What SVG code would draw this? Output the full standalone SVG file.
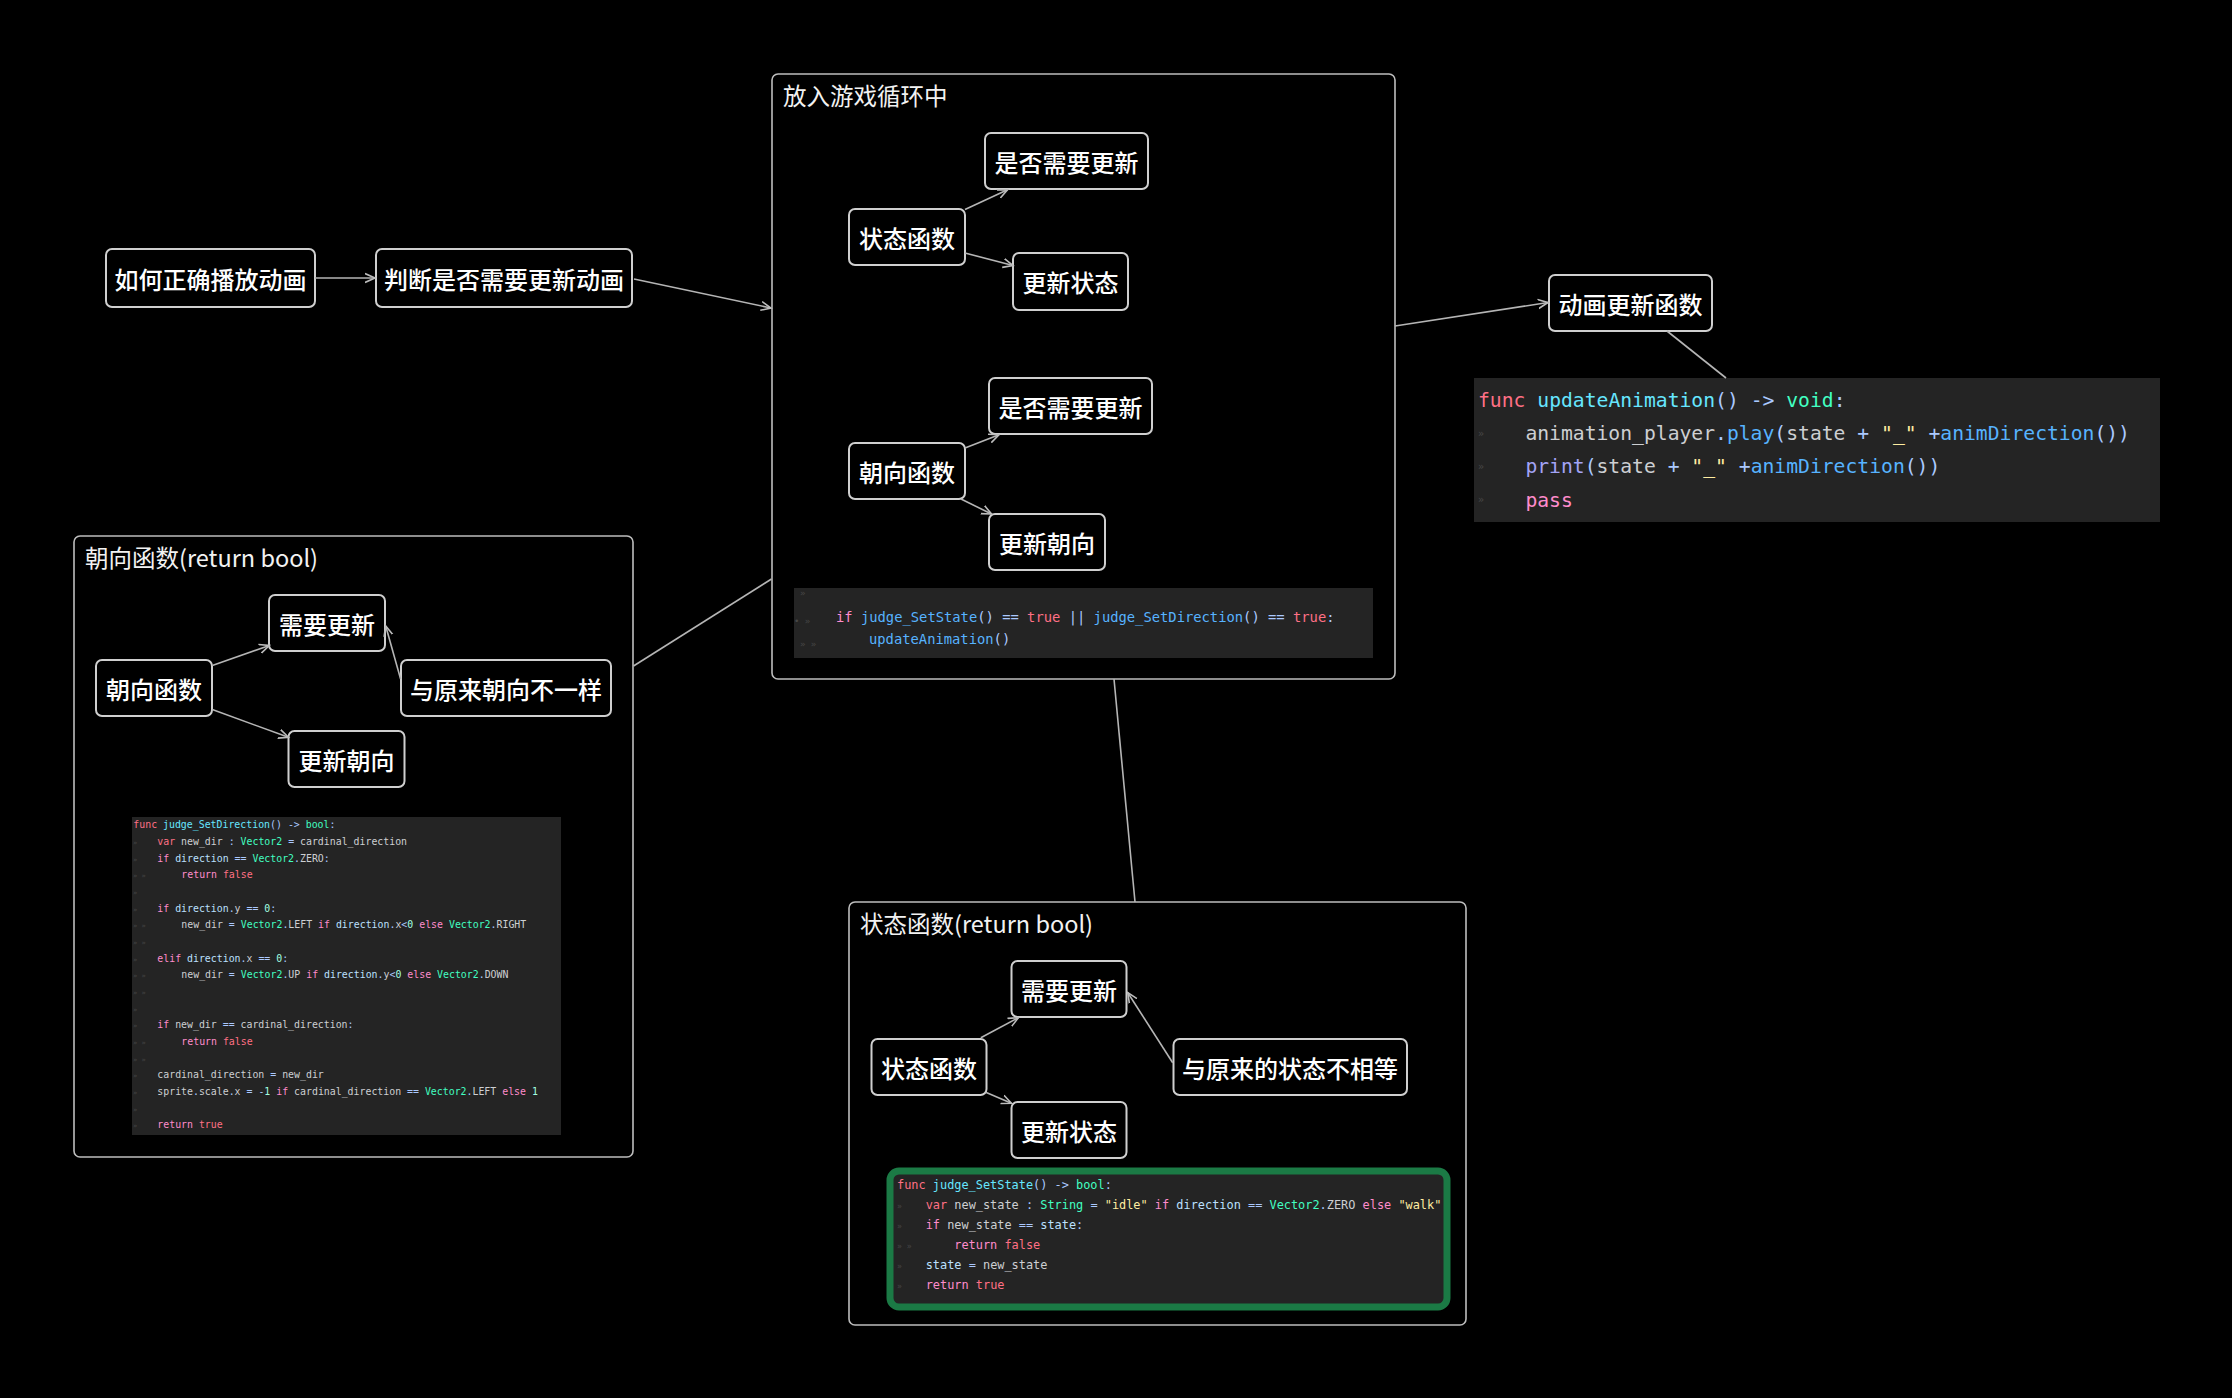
<svg xmlns="http://www.w3.org/2000/svg" width="2232" height="1398" viewBox="0 0 2232 1398">
<defs>
<style>
.node rect{fill:#000;stroke:#cfcfcf;stroke-width:2}
.node text{fill:#fff;font-family:"Noto Sans CJK SC","Noto Sans",sans-serif;font-size:24px;text-anchor:middle;dominant-baseline:central;font-weight:500}
.frame{fill:none;stroke:#bdbdbd;stroke-width:1.6}
.title{fill:#f2f2f2;font-family:"Noto Sans CJK SC","Noto Sans",sans-serif;font-size:23.5px}
.edges line{stroke:#b5b5b5;stroke-width:1.6;fill:none}
.codebg{fill:#242424;stroke:none}
.green{fill:#242424;stroke:#1b7a45;stroke-width:7}
.code{font-family:"DejaVu Sans Mono","Liberation Mono",monospace;fill:#cdcfd2;white-space:pre}
.gut{font-family:"DejaVu Sans Mono",monospace;fill:#474747}
.k{fill:#ff7085}.c{fill:#ff8ccc}.fd{fill:#66e6ff}.fc{fill:#57b3ff}.t{fill:#42ffc2}.s{fill:#abc9ff}.st{fill:#ffeda1}.n{fill:#a1ffe0}.m{fill:#bce0ff}.g{fill:#a3a3f5}
</style>
<marker id="ar" markerWidth="12" markerHeight="12" refX="10" refY="5" orient="auto" markerUnits="userSpaceOnUse" viewBox="0 0 12 10">
<path d="M0,0.5 L10,5 L0,9.5" fill="none" stroke="#bdbdbd" stroke-width="1.6"/>
</marker>
</defs>
<rect width="2232" height="1398" fill="#000"/>

<!-- group: 放入游戏循环中 -->
<g id="grp-loop">
<rect class="frame" x="772" y="74" width="623" height="605" rx="6"/>
<text class="title" x="783" y="105">放入游戏循环中</text>
<rect class="codebg" x="794" y="588" width="579" height="70"/>
<g xml:space="preserve">
<text class="gut" font-size="9" x="800" y="596">»</text>
<text class="gut" font-size="9" x="794" y="624">• »</text>
<text class="gut" font-size="9" x="800" y="647">»   »</text>
<text class="code" font-size="13.8" x="836" y="621.5"><tspan class="c">if</tspan> <tspan class="fc">judge_SetState</tspan><tspan class="s">() ==</tspan> <tspan class="k">true</tspan> <tspan class="s">||</tspan> <tspan class="fc">judge_SetDirection</tspan><tspan class="s">() ==</tspan> <tspan class="k">true</tspan><tspan class="s">:</tspan></text>
<text class="code" font-size="13.8" x="869" y="644.4"><tspan class="fc">updateAnimation</tspan><tspan class="s">()</tspan></text>
</g>
</g>

<!-- group: 朝向函数(return bool) -->
<g id="grp-dir">
<rect class="frame" x="74" y="536" width="559" height="621" rx="6"/>
<text class="title" x="85" y="567">朝向函数(return bool)</text>
<rect class="codebg" x="132" y="817" width="429" height="318"/>
<g xml:space="preserve" font-size="9.9">
<text class="gut" font-size="7" x="133" y="845">»</text>
<text class="gut" font-size="7" x="133" y="861.6">»</text>
<text class="gut" font-size="7" x="133" y="878.3">»   »</text>
<text class="gut" font-size="7" x="133" y="895">»</text>
<text class="gut" font-size="7" x="133" y="911.6">»</text>
<text class="gut" font-size="7" x="133" y="928.3">»   »</text>
<text class="gut" font-size="7" x="133" y="945">»   »</text>
<text class="gut" font-size="7" x="133" y="961.6">»</text>
<text class="gut" font-size="7" x="133" y="978.3">»   »</text>
<text class="gut" font-size="7" x="133" y="995">»   »</text>
<text class="gut" font-size="7" x="133" y="1011.6">»</text>
<text class="gut" font-size="7" x="133" y="1028.3">»</text>
<text class="gut" font-size="7" x="133" y="1045">»   »</text>
<text class="gut" font-size="7" x="133" y="1061.6">»   »</text>
<text class="gut" font-size="7" x="133" y="1078.3">»</text>
<text class="gut" font-size="7" x="133" y="1095">»</text>
<text class="gut" font-size="7" x="133" y="1111.6">»</text>
<text class="gut" font-size="7" x="133" y="1128.3">»</text>
<text class="code" x="133.3" y="828.3"><tspan class="k">func</tspan> <tspan class="fd">judge_SetDirection</tspan><tspan class="s">() -&gt;</tspan> <tspan class="t">bool</tspan><tspan class="s">:</tspan></text>
<text class="code" x="157.3" y="845"><tspan class="k">var</tspan> new_dir <tspan class="s">:</tspan> <tspan class="t">Vector2</tspan> <tspan class="s">=</tspan> cardinal_direction</text>
<text class="code" x="157.3" y="861.6"><tspan class="c">if</tspan> <tspan class="m">direction</tspan> <tspan class="s">==</tspan> <tspan class="t">Vector2</tspan><tspan class="s">.</tspan>ZERO<tspan class="s">:</tspan></text>
<text class="code" x="181.3" y="878.3"><tspan class="c">return</tspan> <tspan class="k">false</tspan></text>
<text class="code" x="157.3" y="911.6"><tspan class="c">if</tspan> <tspan class="m">direction</tspan><tspan class="s">.</tspan>y <tspan class="s">==</tspan> <tspan class="n">0</tspan><tspan class="s">:</tspan></text>
<text class="code" x="181.3" y="928.3">new_dir <tspan class="s">=</tspan> <tspan class="t">Vector2</tspan><tspan class="s">.</tspan>LEFT <tspan class="c">if</tspan> <tspan class="m">direction</tspan><tspan class="s">.</tspan>x<tspan class="s">&lt;</tspan><tspan class="n">0</tspan> <tspan class="c">else</tspan> <tspan class="t">Vector2</tspan><tspan class="s">.</tspan>RIGHT</text>
<text class="code" x="157.3" y="961.6"><tspan class="c">elif</tspan> <tspan class="m">direction</tspan><tspan class="s">.</tspan>x <tspan class="s">==</tspan> <tspan class="n">0</tspan><tspan class="s">:</tspan></text>
<text class="code" x="181.3" y="978.3">new_dir <tspan class="s">=</tspan> <tspan class="t">Vector2</tspan><tspan class="s">.</tspan>UP <tspan class="c">if</tspan> <tspan class="m">direction</tspan><tspan class="s">.</tspan>y<tspan class="s">&lt;</tspan><tspan class="n">0</tspan> <tspan class="c">else</tspan> <tspan class="t">Vector2</tspan><tspan class="s">.</tspan>DOWN</text>
<text class="code" x="157.3" y="1028.3"><tspan class="c">if</tspan> new_dir <tspan class="s">==</tspan> cardinal_direction<tspan class="s">:</tspan></text>
<text class="code" x="181.3" y="1045"><tspan class="c">return</tspan> <tspan class="k">false</tspan></text>
<text class="code" x="157.3" y="1078.3">cardinal_direction <tspan class="s">=</tspan> new_dir</text>
<text class="code" x="157.3" y="1095">sprite<tspan class="s">.</tspan>scale<tspan class="s">.</tspan>x <tspan class="s">=</tspan> <tspan class="s">-</tspan><tspan class="n">1</tspan> <tspan class="c">if</tspan> cardinal_direction <tspan class="s">==</tspan> <tspan class="t">Vector2</tspan><tspan class="s">.</tspan>LEFT <tspan class="c">else</tspan> <tspan class="n">1</tspan></text>
<text class="code" x="157.3" y="1128.3"><tspan class="c">return</tspan> <tspan class="k">true</tspan></text>
</g>
</g>

<!-- group: 状态函数(return bool) -->
<g id="grp-state">
<rect class="frame" x="849" y="902" width="617" height="423" rx="6"/>
<text class="title" x="860" y="933">状态函数(return bool)</text>
<rect class="green" x="890" y="1171" width="557" height="136" rx="9"/>
<g xml:space="preserve" font-size="11.9">
<text class="gut" font-size="8" x="897" y="1209">»</text>
<text class="gut" font-size="8" x="897" y="1229">»</text>
<text class="gut" font-size="8" x="897" y="1249">»   »</text>
<text class="gut" font-size="8" x="897" y="1269">»</text>
<text class="gut" font-size="8" x="897" y="1289">»</text>
<text class="code" x="897" y="1189"><tspan class="k">func</tspan> <tspan class="fd">judge_SetState</tspan><tspan class="s">() -&gt;</tspan> <tspan class="t">bool</tspan><tspan class="s">:</tspan></text>
<text class="code" x="925.7" y="1209"><tspan class="k">var</tspan> new_state <tspan class="s">:</tspan> <tspan class="t">String</tspan> <tspan class="s">=</tspan> <tspan class="st">"idle"</tspan> <tspan class="c">if</tspan> <tspan class="m">direction</tspan> <tspan class="s">==</tspan> <tspan class="t">Vector2</tspan><tspan class="s">.</tspan>ZERO <tspan class="c">else</tspan> <tspan class="st">"walk"</tspan></text>
<text class="code" x="925.7" y="1229"><tspan class="c">if</tspan> new_state <tspan class="s">==</tspan> <tspan class="m">state</tspan><tspan class="s">:</tspan></text>
<text class="code" x="954.3" y="1249"><tspan class="c">return</tspan> <tspan class="k">false</tspan></text>
<text class="code" x="925.7" y="1269"><tspan class="m">state</tspan> <tspan class="s">=</tspan> new_state</text>
<text class="code" x="925.7" y="1289"><tspan class="c">return</tspan> <tspan class="k">true</tspan></text>
</g>
</g>

<!-- code block: updateAnimation -->
<g id="code-update">
<rect class="codebg" x="1474" y="378" width="686" height="144"/>
<g xml:space="preserve" font-size="19.7">
<text class="gut" font-size="10" x="1478" y="437">»</text>
<text class="gut" font-size="10" x="1478" y="470">»</text>
<text class="gut" font-size="10" x="1478" y="503">»</text>
<text class="code" x="1478" y="406.7"><tspan class="k">func</tspan> <tspan class="fd">updateAnimation</tspan><tspan class="s">() -&gt;</tspan> <tspan class="t">void</tspan><tspan class="s">:</tspan></text>
<text class="code" x="1525.4" y="440">animation_player<tspan class="s">.</tspan><tspan class="fc">play</tspan><tspan class="s">(</tspan>state <tspan class="s">+</tspan> <tspan class="st">"_"</tspan> <tspan class="s">+</tspan><tspan class="fc">animDirection</tspan><tspan class="s">())</tspan></text>
<text class="code" x="1525.4" y="473"><tspan class="g">print</tspan><tspan class="s">(</tspan>state <tspan class="s">+</tspan> <tspan class="st">"_"</tspan> <tspan class="s">+</tspan><tspan class="fc">animDirection</tspan><tspan class="s">())</tspan></text>
<text class="code" x="1525.4" y="506.7"><tspan class="c">pass</tspan></text>
</g>
</g>

<!-- nodes -->
<g id="n-howto" class="node"><rect x="106" y="249" width="209" height="58" rx="6"/><text x="210.5" y="278">如何正确播放动画</text></g>
<g id="n-judge" class="node"><rect x="376" y="249" width="256" height="58" rx="6"/><text x="504" y="278">判断是否需要更新动画</text></g>
<g id="n-loop-state" class="node"><rect x="849" y="209" width="116" height="56" rx="6"/><text x="907" y="237">状态函数</text></g>
<g id="n-loop-state-need" class="node"><rect x="985" y="133" width="163" height="56" rx="6"/><text x="1066.5" y="161">是否需要更新</text></g>
<g id="n-loop-state-upd" class="node"><rect x="1013" y="253" width="115" height="57" rx="6"/><text x="1070.5" y="281.5">更新状态</text></g>
<g id="n-loop-dir" class="node"><rect x="849" y="443" width="116" height="56" rx="6"/><text x="907" y="471">朝向函数</text></g>
<g id="n-loop-dir-need" class="node"><rect x="989" y="378" width="163" height="56" rx="6"/><text x="1070.5" y="406">是否需要更新</text></g>
<g id="n-loop-dir-upd" class="node"><rect x="989" y="514" width="116" height="56" rx="6"/><text x="1047" y="542">更新朝向</text></g>
<g id="n-anim" class="node"><rect x="1549" y="275" width="163" height="56" rx="6"/><text x="1630.5" y="303">动画更新函数</text></g>
<g id="n-dir-func" class="node"><rect x="96" y="660" width="116" height="56" rx="6"/><text x="154" y="688">朝向函数</text></g>
<g id="n-dir-need" class="node"><rect x="269" y="595" width="116" height="56" rx="6"/><text x="327" y="623">需要更新</text></g>
<g id="n-dir-diff" class="node"><rect x="401" y="660" width="210" height="56" rx="6"/><text x="506" y="688">与原来朝向不一样</text></g>
<g id="n-dir-upd" class="node"><rect x="288.5" y="731" width="116" height="56" rx="6"/><text x="346.5" y="759">更新朝向</text></g>
<g id="n-st-func" class="node"><rect x="871.5" y="1039" width="115" height="56" rx="6"/><text x="929" y="1067">状态函数</text></g>
<g id="n-st-need" class="node"><rect x="1011.5" y="961" width="115" height="56" rx="6"/><text x="1069" y="989">需要更新</text></g>
<g id="n-st-diff" class="node"><rect x="1173.5" y="1039" width="233.5" height="56" rx="6"/><text x="1290" y="1067">与原来的状态不相等</text></g>
<g id="n-st-upd" class="node"><rect x="1011.5" y="1102" width="115" height="56" rx="6"/><text x="1069" y="1130">更新状态</text></g>

<!-- connectors -->
<g id="edges" class="edges">
<line x1="315" y1="278" x2="375" y2="278" marker-end="url(#ar)"/>
<line x1="634" y1="279" x2="771" y2="308" marker-end="url(#ar)"/>
<line x1="1395" y1="326" x2="1548" y2="302.5" marker-end="url(#ar)"/>
<line x1="1667" y1="331" x2="1726" y2="378"/>
<line x1="771.5" y1="579" x2="633.5" y2="666"/>
<line x1="1114" y1="679" x2="1135" y2="902"/>
<line x1="965" y1="209.5" x2="1007.5" y2="189.7" marker-end="url(#ar)"/>
<line x1="965" y1="253" x2="1013" y2="265.6" marker-end="url(#ar)"/>
<line x1="965" y1="448" x2="999" y2="434.8" marker-end="url(#ar)"/>
<line x1="961" y1="499" x2="991.5" y2="514" marker-end="url(#ar)"/>
<line x1="212.3" y1="665.5" x2="269.3" y2="645.5" marker-end="url(#ar)"/>
<line x1="212.3" y1="709.6" x2="288.5" y2="737.3" marker-end="url(#ar)"/>
<line x1="400.6" y1="679" x2="385.7" y2="626" marker-end="url(#ar)"/>
<line x1="980.8" y1="1037.7" x2="1018.4" y2="1017.7" marker-end="url(#ar)"/>
<line x1="985.7" y1="1092.3" x2="1011.4" y2="1103.3" marker-end="url(#ar)"/>
<line x1="1172.7" y1="1062.7" x2="1127.8" y2="992.7" marker-end="url(#ar)"/>
</g>
</svg>
